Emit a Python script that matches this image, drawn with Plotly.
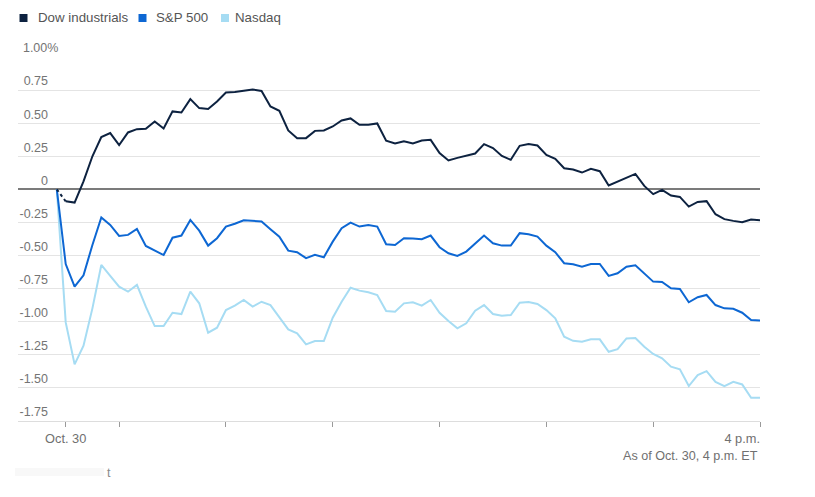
import pandas as pd
import plotly.graph_objects as go

# ---- data (percent change, 5-minute intervals, Oct. 30) ----
times = pd.date_range("2024-10-30 09:25", "2024-10-30 16:00", freq="5min")

dow = [0, -0.09, -0.10, 0.06, 0.25, 0.395, 0.425, 0.334, 0.43, 0.455,
       0.458, 0.513, 0.46, 0.589, 0.581, 0.682, 0.614, 0.607, 0.664, 0.732,
       0.735, 0.745, 0.755, 0.743, 0.626, 0.594, 0.445, 0.387, 0.387, 0.442,
       0.445, 0.475, 0.52, 0.536, 0.488, 0.488, 0.498, 0.367, 0.346, 0.364,
       0.346, 0.369, 0.374, 0.274, 0.218, 0.238, 0.253, 0.271, 0.342, 0.312,
       0.253, 0.223, 0.329, 0.342, 0.331, 0.261, 0.231, 0.160, 0.150, 0.127,
       0.155, 0.137, 0.029, 0.059, 0.092, 0.117, 0.026, -0.036, -0.004, -0.047,
       -0.057, -0.130, -0.095, -0.089, -0.188, -0.225, -0.238, -0.248, -0.228, -0.233]

sp500 = [0, -0.564, -0.735, -0.649, -0.42, -0.213, -0.269, -0.352, -0.344, -0.299,
         -0.427, -0.463, -0.496, -0.365, -0.349, -0.231, -0.312, -0.425, -0.369, -0.281,
         -0.26, -0.233, -0.238, -0.243, -0.301, -0.357, -0.463, -0.475, -0.520, -0.495,
         -0.513, -0.395, -0.294, -0.251, -0.281, -0.269, -0.281, -0.415, -0.420, -0.369,
         -0.372, -0.377, -0.349, -0.437, -0.483, -0.503, -0.470, -0.407, -0.349, -0.407,
         -0.425, -0.425, -0.331, -0.339, -0.357, -0.425, -0.475, -0.558, -0.566, -0.584,
         -0.564, -0.564, -0.654, -0.634, -0.584, -0.573, -0.634, -0.697, -0.700, -0.747,
         -0.753, -0.853, -0.815, -0.798, -0.874, -0.899, -0.902, -0.932, -0.987, -0.990]

nasdaq = [0, -1.005, -1.322, -1.181, -0.899, -0.571, -0.654, -0.735, -0.773, -0.722,
          -0.886, -1.033, -1.033, -0.932, -0.942, -0.773, -0.861, -1.083, -1.045, -0.912,
          -0.878, -0.835, -0.886, -0.849, -0.874, -0.962, -1.058, -1.088, -1.171, -1.146,
          -1.146, -0.970, -0.849, -0.743, -0.765, -0.778, -0.798, -0.919, -0.924, -0.861,
          -0.853, -0.879, -0.836, -0.932, -0.995, -1.050, -1.012, -0.917, -0.874, -0.942,
          -0.955, -0.949, -0.856, -0.851, -0.866, -0.912, -0.974, -1.113, -1.144, -1.151,
          -1.133, -1.133, -1.227, -1.207, -1.126, -1.123, -1.189, -1.244, -1.277, -1.340,
          -1.360, -1.486, -1.403, -1.373, -1.454, -1.486, -1.454, -1.474, -1.575, -1.575]

series_names = ["Dow industrials", "S&P 500", "Nasdaq"]
series_colors = ["#0d2240", "#0d67d3", "#a6dcf3"]

NB = "\u00a0"
y_tickvals = [1.0, 0.75, 0.5, 0.25, 0, -0.25, -0.5, -0.75, -1.0, -1.25, -1.5, -1.75]
y_labels = ["1.00", "0.75", "0.50", "0.25", "0", "-0.25", "-0.50", "-0.75",
            "-1.00", "-1.25", "-1.50", "-1.75"]
# the "%" of the top label hangs past the right-aligned numbers
y_ticktext = [y_labels[0] + "%"] + [t + NB * 3 for t in y_labels[1:]]

x_tickvals = ["2024-10-30 09:30", "2024-10-30 10:00", "2024-10-30 11:00", "2024-10-30 12:00",
              "2024-10-30 13:00", "2024-10-30 14:00", "2024-10-30 15:00", "2024-10-30 16:00"]
x_ticktext = ["Oct. 30", "", "", "", "", "", "", "4 p.m." + NB * 10]

# geometry: the page body has an 8px margin, so the figure is 8px smaller
OFF = 8
W, H = 815 - OFF, 497 - OFF
L, T = 18 - OFF, 57 - OFF
R = W - (760 - OFF)
B = H - (421 - OFF)
PW, PH = W - L - R, H - T - B
px = lambda x: (x - OFF - L) / PW          # window pixel -> paper x
py = lambda y: (H - B - (y - OFF)) / PH    # window pixel -> paper y

fig = go.Figure()

# draw Nasdaq first so darker lines stay on top
for name, vals, col in [(series_names[2], nasdaq, series_colors[2]),
                        (series_names[1], sp500, series_colors[1])]:
    fig.add_trace(go.Scatter(x=times, y=vals, mode="lines", name=name,
                             line=dict(color=col, width=2)))

# Dow: first segment dotted (from previous close), rest solid
fig.add_trace(go.Scatter(x=times[:2], y=dow[:2], mode="lines", name=series_names[0],
                         line=dict(color=series_colors[0], width=2, dash="dot")))
fig.add_trace(go.Scatter(x=times[1:], y=dow[1:], mode="lines", name=series_names[0],
                         line=dict(color=series_colors[0], width=2)))

fig.update_layout(
    width=W, height=H,
    margin=dict(l=L, r=R, t=T, b=B, autoexpand=False),
    paper_bgcolor="white", plot_bgcolor="white",
    font=dict(family="Liberation Sans, Arial, sans-serif", color="#6f6f6f"),
    showlegend=False,
    xaxis=dict(type="date", range=["2024-10-30 09:03:12", "2024-10-30 16:00"],
               tickvals=x_tickvals, ticktext=x_ticktext, automargin=False,
               ticks="outside", ticklen=5, tickcolor="#9a9a9a", tickwidth=1,
               ticklabelstandoff=1,
               showgrid=False, showline=True, linecolor="#dddddd", linewidth=1,
               tickfont=dict(size=12.8, color="#707070"),
               zeroline=False),
    yaxis=dict(range=[-1.75, 1.0], tickvals=y_tickvals, ticktext=y_ticktext,
               anchor="free", position=px(58.4), side="left", automargin=False,
               ticklabelshift=-9, ticks="",
               showgrid=True, gridcolor="#e4e4e4", gridwidth=1,
               zeroline=True, zerolinecolor="#7b7b7b", zerolinewidth=2,
               showline=False,
               tickfont=dict(size=12.5, color="#747474")),
)

# legend (colour squares + labels) across the top
legend_sq_x = [23.5, 142.5, 225.0]
legend_tx_x = [35.5, 154.0, 232.5]
legend_y = 18
for name, col, sx, tx in zip(series_names, series_colors, legend_sq_x, legend_tx_x):
    fig.add_shape(type="rect", xref="paper", yref="paper",
                  x0=px(sx - 4), x1=px(sx + 4), y0=py(legend_y + 4), y1=py(legend_y - 4),
                  fillcolor=col, line=dict(width=0))
    fig.add_annotation(text=name, xref="paper", yref="paper", x=px(tx), y=py(legend_y),
                       xanchor="left", yanchor="middle", showarrow=False,
                       font=dict(size=13.3, color="#555555"))

fig.add_annotation(text="As of Oct. 30, 4 p.m. ET", xref="paper", yref="paper",
                   x=px(760), y=py(455.7), xanchor="right", yanchor="middle", showarrow=False,
                   font=dict(size=12.6, color="#707070"))
fig.add_shape(type="rect", xref="paper", yref="paper", x0=px(15), x1=px(104),
              y0=py(476), y1=py(468), fillcolor="#f8f8f8", line=dict(width=0), layer="below")
fig.add_annotation(text="t", xref="paper", yref="paper", x=px(108.7), y=py(472.5),
                   xanchor="center", yanchor="middle", showarrow=False,
                   font=dict(size=12.6, color="#8a8a8a"))

fig.write_html("out.html")
